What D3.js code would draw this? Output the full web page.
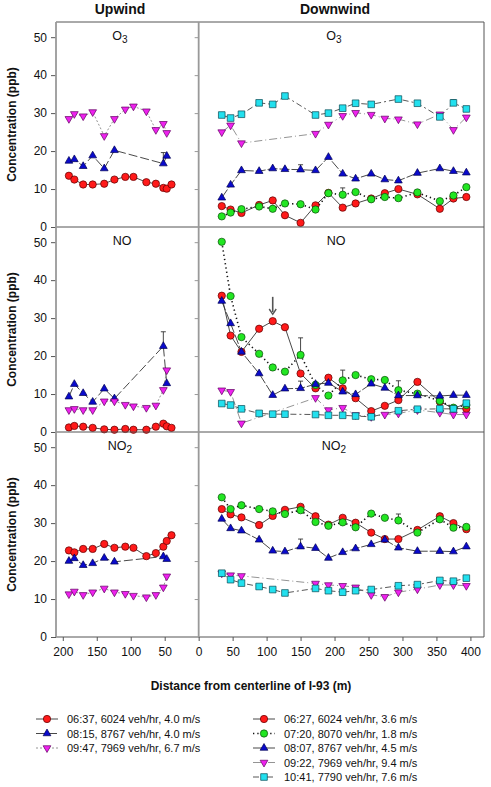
<!DOCTYPE html>
<html><head><meta charset="utf-8">
<script src="https://cdn.jsdelivr.net/npm/d3@7"></script>
<style>body{margin:0;background:#fff}svg{display:block;font-family:"Liberation Sans",Arial,sans-serif}</style>
</head><body>
<svg id="c" width="491" height="787"></svg>
<script>
// ---------------- DATA ----------------
const pollutants = ["O3", "NO", "NO2"];
const upDist   = [191,183,170,156,139,124,108,96,77,63,52,47,40];
const downDist = [34,47,63,89,109,127,150,172,191,212,231,254,274,294,322,355,375,394];
const xTicks = [-200,-150,-100,-50,0,50,100,150,200,250,300,350,400];
const yTicks = [0,10,20,30,40,50];

const upLabels = ["06:37, 6024 veh/hr, 4.0 m/s","08:15, 8767 veh/hr, 4.0 m/s","09:47, 7969 veh/hr, 6.7 m/s"];
const downLabels = ["06:27, 6024 veh/hr, 3.6 m/s","07:20, 8070 veh/hr, 1.8 m/s","08:07, 8767 veh/hr, 4.5 m/s","09:22, 7969 veh/hr, 9.4 m/s","10:41, 7790 veh/hr, 7.6 m/s"];

// Upwind
const up0637_O3  = [13.5,12.5,11.2,11.2,11.4,12.5,13.2,13.2,11.8,11.4,10.3,10.1,11.2];
const up0815_O3  = [17.4,17.8,16.0,18.8,15.4,20.2,null,null,null,null,16.7,18.7,null];
const up0947_O3  = [28.5,29.8,29.2,30.3,24.0,28.5,31.0,31.8,30.5,25.6,27.2,24.8,null];
const up0637_NO  = [1.2,1.6,1.4,1.1,0.7,0.6,0.8,0.6,0.6,1.4,2.2,1.5,1.1];
const up0815_NO  = [9.3,12.6,10.2,7.9,11.4,8.8,null,null,null,null,22.6,12.8,null];
const up0947_NO  = [5.8,6.1,5.8,5.8,8.1,8.1,7.2,6.8,6.4,7.0,11.1,16.3,null];
const up0637_NO2 = [22.8,22.3,23.2,23.2,24.5,23.5,23.8,23.5,21.3,22.1,23.8,25.3,26.8];
const up0815_NO2 = [20.0,20.7,18.9,19.4,20.8,19.8,null,null,null,null,21.2,20.5,null];
const up0947_NO2 = [11.3,12.0,11.1,11.8,12.8,11.8,11.4,10.9,10.5,11.1,13.1,16.0,null];

// Downwind
const dn0627_O3  = [5.5,4.6,3.7,5.8,7.0,3.1,1.1,5.7,9.0,5.1,6.2,7.5,8.9,10.0,8.6,4.8,7.5,7.9];
const dn0720_O3  = [2.8,3.8,4.7,5.4,4.8,6.2,6.0,4.6,8.9,8.5,9.2,7.3,7.9,7.6,9.1,6.8,8.3,10.5];
const dn0807_O3  = [7.7,11.1,14.9,14.7,15.4,15.2,15.1,14.9,18.4,14.0,12.7,14.0,12.5,12.2,14.2,15.4,14.7,14.3];
const dn0922_O3  = [25.0,26.8,22.1,null,null,null,null,24.6,27.0,29.3,30.1,29.6,28.6,28.4,27.1,29.7,25.6,28.9];
const dn1041_O3  = [29.5,28.7,29.7,32.7,32.3,34.5,null,29.5,30.0,31.3,32.6,32.3,null,33.7,32.6,29.0,32.7,31.1];
const dn0627_NO  = [35.9,25.4,21.1,27.2,29.2,27.6,15.4,11.5,14.3,11.5,8.9,5.5,6.9,8.4,13.2,8.0,6.2,6.1];
const dn0720_NO  = [50.1,35.8,25.0,20.6,17.0,15.9,20.3,12.4,9.6,13.6,15.0,13.9,13.7,11.0,10.1,8.2,6.4,7.1];
const dn0807_NO  = [34.5,28.6,21.1,15.4,9.7,11.4,11.5,12.6,12.9,10.6,9.9,12.7,11.6,9.6,9.6,9.5,9.7,9.7];
const dn0922_NO  = [11.0,10.6,2.3,null,null,null,null,9.0,5.8,6.4,4.5,4.0,4.6,4.9,5.8,5.1,4.6,4.6];
const dn1041_NO  = [7.5,7.1,6.1,4.9,4.7,4.7,null,4.6,4.4,4.4,4.2,4.0,null,5.6,6.0,6.1,6.1,7.6];
const dn0627_NO2 = [33.7,32.3,31.5,29.5,31.9,33.5,34.3,31.8,29.6,31.4,30.1,27.5,25.8,25.8,28.2,31.8,30.0,28.4];
const dn0720_NO2 = [36.8,33.7,34.7,33.7,33.1,32.4,33.4,30.3,29.3,30.2,28.9,32.5,31.4,30.7,27.5,31.0,28.8,29.0];
const dn0807_NO2 = [31.1,28.6,28.0,25.6,22.7,22.5,23.8,23.4,20.8,22.3,23.3,24.4,25.6,23.5,22.6,22.6,22.5,23.8];
const dn0922_NO2 = [16.8,16.3,16.1,null,null,null,null,14.1,13.7,13.5,13.1,11.1,10.6,11.8,12.6,13.7,13.7,13.5];
const dn1041_NO2 = [16.8,15.1,14.2,13.3,12.5,11.6,null,12.8,12.2,11.8,12.2,12.5,null,13.5,13.8,14.9,14.7,15.5];

// error bars: [pollutant, side(-1 up / +1 down), distance, value, upper]
const errPollutant = ["O3","O3","O3","O3","NO","NO","NO","NO","NO","NO2","NO2"];
const errSide      = [-1,1,1,1,-1,1,1,1,1,1,1];
const errDist      = [52,150,212,375,52,150,150,212,294,150,294];
const errValue     = [16.7,15.1,8.5,32.7,22.6,20.3,11.5,13.6,11.0,23.8,30.7];
const errUpper     = [19.6,16.4,10.3,33.5,26.4,24.8,13.4,16.3,13.5,25.8,32.4];

// ---------------- STYLES ----------------
const RED = {fill:"#ff1a1a", stroke:"#5a0000", sym:"circle"};
const GRN = {fill:"#22e622", stroke:"#0a4a0a", sym:"circle"};
const BLU = {fill:"#0a0acc", stroke:"#000050", sym:"tri"};
const MAG = {fill:"#ee22ee", stroke:"#600060", sym:"tridown"};
const CYN = {fill:"#22e0ee", stroke:"#0a4a55", sym:"square"};

const upSeries = [
  {style:RED, dash:null, lc:"#333", data:{O3:up0637_O3,NO:up0637_NO,NO2:up0637_NO2}},
  {style:BLU, dash:"9,3", lc:"#333", data:{O3:up0815_O3,NO:up0815_NO,NO2:up0815_NO2}},
  {style:MAG, dash:"2,2", lc:"#888", data:{O3:up0947_O3,NO:up0947_NO,NO2:up0947_NO2}}
];
const downSeries = [
  {style:RED, dash:null, lc:"#333", w:0.9, data:{O3:dn0627_O3,NO:dn0627_NO,NO2:dn0627_NO2}},
  {style:GRN, dash:"1.3,3", lc:"#111", w:1.6, data:{O3:dn0720_O3,NO:dn0720_NO,NO2:dn0720_NO2}},
  {style:BLU, dash:"10,2", lc:"#333", w:0.9, data:{O3:dn0807_O3,NO:dn0807_NO,NO2:dn0807_NO2}},
  {style:MAG, dash:"8,3,1,3", lc:"#888", w:0.9, data:{O3:dn0922_O3,NO:dn0922_NO,NO2:dn0922_NO2}},
  {style:CYN, dash:"6,3,2,3", lc:"#444", w:0.9, data:{O3:dn1041_O3,NO:dn1041_NO,NO2:dn1041_NO2}}
];

// ---------------- LAYOUT ----------------
const svg = d3.select("#c");
const L = 56, R = 484, T = 22, rowH = 205;
const x = d3.scaleLinear().domain([-210, 420]).range([L, R]);
const yFor = i => d3.scaleLinear().domain([0, 54]).range([T + (i+1)*rowH, T + i*rowH]);
const x0 = x(0);

function symbolPath(sym) {
  if (sym === "circle") return d3.symbol(d3.symbolCircle, 42)();
  if (sym === "square") return d3.symbol(d3.symbolSquare, 44)();
  return d3.symbol(d3.symbolTriangle, 26)();
}

function drawSeries(g, ser, dists, sign, pol, y) {
  const pts = dists.map((d,i)=>({d:d, v:ser.data[pol][i]})).filter(p=>p.v!=null);
  const line = d3.line().x(p=>x(sign*p.d)).y(p=>y(p.v));
  g.append("path").attr("d", line(pts)).attr("fill","none")
    .attr("stroke", ser.lc).attr("stroke-width", ser.w || 0.9)
    .attr("stroke-dasharray", ser.dash);
  return pts;
}
function drawMarkers(g, ser, pts, sign, y) {
  const st = ser.style;
  g.selectAll(null).data(pts).enter().append("path")
    .attr("d", symbolPath(st.sym))
    .attr("transform", p=>`translate(${x(sign*p.d)},${y(p.v)})${st.sym==="tridown"?" rotate(180)":""}`)
    .attr("fill", st.fill).attr("stroke", st.stroke).attr("stroke-width", 0.7);
}

pollutants.forEach((pol, ri) => {
  const y = yFor(ri);
  const g = svg.append("g");
  // error bars
  errPollutant.forEach((p, k) => {
    if (p !== pol) return;
    const xx = x(errSide[k]*errDist[k]);
    g.append("line").attr("x1",xx).attr("x2",xx).attr("y1",y(errValue[k])).attr("y2",y(errUpper[k]))
      .attr("stroke","#333").attr("stroke-width",0.9);
    g.append("line").attr("x1",xx-2.5).attr("x2",xx+2.5).attr("y1",y(errUpper[k])).attr("y2",y(errUpper[k]))
      .attr("stroke","#333").attr("stroke-width",0.9);
  });
  const upPts = upSeries.map(s => drawSeries(g, s, upDist, -1, pol, y));
  const dnPts = downSeries.map(s => drawSeries(g, s, downDist, 1, pol, y));
  upSeries.forEach((s,i)=>drawMarkers(g, s, upPts[i], -1, y));
  downSeries.forEach((s,i)=>drawMarkers(g, s, dnPts[i], 1, y));

  // y axis
  const ax = svg.append("g").attr("transform",`translate(${L},0)`)
    .call(d3.axisLeft(y).tickValues(yTicks).tickSize(5).tickPadding(4));
  ax.select(".domain").remove();
  ax.selectAll("line").attr("stroke","#555");
  ax.selectAll("text").attr("font-size","12px").attr("fill","#111");
  // ticks left of divider
  svg.append("g").attr("transform",`translate(${x0},0)`)
    .call(d3.axisLeft(y).tickValues(yTicks.slice(1)).tickSize(4).tickFormat(""))
    .call(a=>{a.select(".domain").remove(); a.selectAll("line").attr("stroke","#999");});

  // y axis label
  const cy = T + ri*rowH + rowH/2;
  svg.append("text").attr("transform",`translate(16,${cy}) rotate(-90)`)
    .attr("text-anchor","middle").attr("font-size","12px").attr("font-weight","bold")
    .attr("fill","#111").text("Concentration (ppb)");

  // panel labels
  [[120],[334]].forEach(([cx])=>{
    const t = svg.append("text").attr("x",cx + (pol==="NO"?2:0)).attr("y",T + ri*rowH + 18)
      .attr("text-anchor","middle").attr("font-size","12.5px").attr("fill","#111");
    if (pol === "O3") { t.append("tspan").text("O"); t.append("tspan").attr("font-size","10px").attr("dy",3).text("3"); }
    else if (pol === "NO2") { t.append("tspan").text("NO"); t.append("tspan").attr("font-size","10px").attr("dy",3).text("2"); }
    else t.text("NO");
  });
});

// arrow in NO panel
{
  const y = yFor(1);
  const ax = x(109);
  svg.append("line").attr("x1",ax).attr("x2",ax).attr("y1",y(35.6)).attr("y2",y(31.6))
    .attr("stroke","#555").attr("stroke-width",1.6);
  svg.append("path").attr("d",`M${ax-3.5},${y(32.4)} L${ax},${y(31.0)} L${ax+3.5},${y(32.4)}`)
    .attr("fill","none").attr("stroke","#555").attr("stroke-width",1.4);
}

// frame
const B = T + 3*rowH;
svg.append("line").attr("x1",L).attr("x2",R).attr("y1",T).attr("y2",T).attr("stroke","#555").attr("stroke-width",1);
svg.append("line").attr("x1",L).attr("x2",R).attr("y1",B).attr("y2",B).attr("stroke","#555").attr("stroke-width",1);
[1,2].forEach(i=>svg.append("line").attr("x1",L).attr("x2",R).attr("y1",T+i*rowH).attr("y2",T+i*rowH).attr("stroke","#555").attr("stroke-width",1));
svg.append("line").attr("x1",R).attr("x2",R).attr("y1",T).attr("y2",B).attr("stroke","#555").attr("stroke-width",1);
svg.append("line").attr("x1",L).attr("x2",L).attr("y1",T).attr("y2",B).attr("stroke","#999").attr("stroke-width",1.8);
svg.append("line").attr("x1",x0).attr("x2",x0).attr("y1",T).attr("y2",B).attr("stroke","#999").attr("stroke-width",1.8);

// x axis
const xa = svg.append("g").attr("transform",`translate(0,${B})`)
  .call(d3.axisBottom(x).tickValues(xTicks).tickSize(4).tickPadding(6).tickFormat(d=>Math.abs(d)));
xa.select(".domain").remove();
xa.selectAll("line").attr("stroke","#555");
xa.selectAll("text").attr("font-size","12px").attr("fill","#111");

// titles
svg.append("text").attr("x",120).attr("y",14).attr("text-anchor","middle").attr("font-size","14px").attr("font-weight","bold").attr("fill","#111").text("Upwind");
svg.append("text").attr("x",335).attr("y",14).attr("text-anchor","middle").attr("font-size","14px").attr("font-weight","bold").attr("fill","#111").text("Downwind");
svg.append("text").attr("x",251).attr("y",690).attr("text-anchor","middle").attr("font-size","12px").attr("font-weight","bold").attr("fill","#111").text("Distance from centerline of I-93 (m)");

// legend
function legendItem(ser, label, lx, ly, tx) {
  svg.append("line").attr("x1",lx).attr("x2",lx+22).attr("y1",ly).attr("y2",ly)
    .attr("stroke",ser.lc).attr("stroke-width",ser.w||0.9).attr("stroke-dasharray",ser.dash);
  const st = ser.style;
  svg.append("path").attr("d",symbolPath(st.sym))
    .attr("transform",`translate(${lx+11},${ly})${st.sym==="tridown"?" rotate(180)":""}`)
    .attr("fill",st.fill).attr("stroke",st.stroke).attr("stroke-width",0.7);
  svg.append("text").attr("x",tx).attr("y",ly+4).attr("font-size","11px").attr("fill","#111").text(label);
}
const legY = [719, 733.5, 748, 762.5, 777];
upSeries.forEach((s,i)=>legendItem(s, upLabels[i], 36, legY[i], 67));
downSeries.forEach((s,i)=>legendItem(s, downLabels[i], 253, legY[i], 284));
</script>
</body></html>
